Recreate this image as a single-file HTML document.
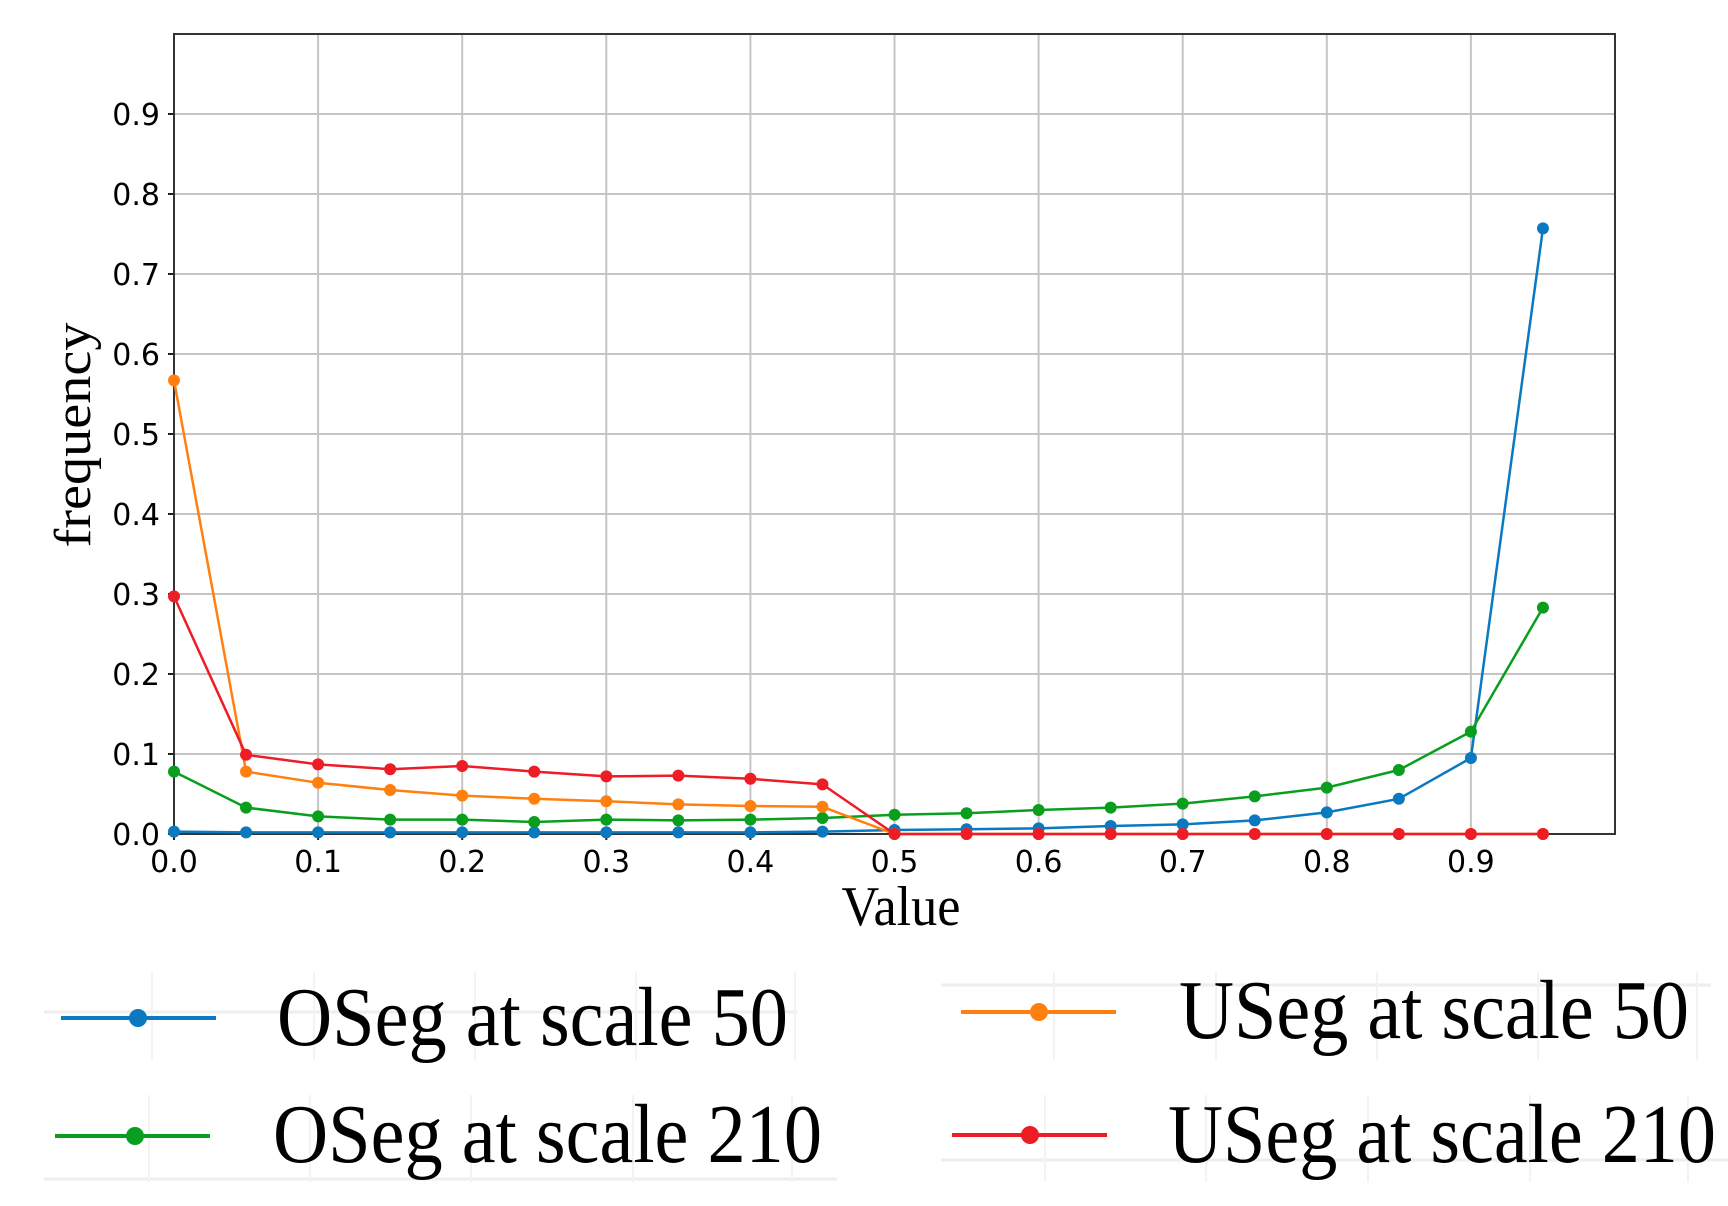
<!DOCTYPE html>
<html><head><meta charset="utf-8"><style>html,body{margin:0;padding:0;background:#fff}svg{display:block}</style></head>
<body>
<svg width="1728" height="1206" viewBox="0 0 1728 1206" xmlns="http://www.w3.org/2000/svg">
<defs>
<marker id="mb" markerUnits="userSpaceOnUse" markerWidth="14" markerHeight="14" refX="7" refY="7"><circle cx="7" cy="7" r="6" fill="#0a79c0"/></marker>
<marker id="mg" markerUnits="userSpaceOnUse" markerWidth="14" markerHeight="14" refX="7" refY="7"><circle cx="7" cy="7" r="6" fill="#0a9e1e"/></marker>
<marker id="mo" markerUnits="userSpaceOnUse" markerWidth="14" markerHeight="14" refX="7" refY="7"><circle cx="7" cy="7" r="6" fill="#ff800e"/></marker>
<marker id="mr" markerUnits="userSpaceOnUse" markerWidth="14" markerHeight="14" refX="7" refY="7"><circle cx="7" cy="7" r="6" fill="#ee1c25"/></marker>
</defs>
<g stroke="#c4c4c4" stroke-width="2">
<line x1="318.1" y1="34" x2="318.1" y2="834"/><line x1="462.2" y1="34" x2="462.2" y2="834"/><line x1="606.3" y1="34" x2="606.3" y2="834"/><line x1="750.4" y1="34" x2="750.4" y2="834"/><line x1="894.5" y1="34" x2="894.5" y2="834"/><line x1="1038.6" y1="34" x2="1038.6" y2="834"/><line x1="1182.7" y1="34" x2="1182.7" y2="834"/><line x1="1326.8" y1="34" x2="1326.8" y2="834"/><line x1="1470.9" y1="34" x2="1470.9" y2="834"/>
<line x1="174" y1="754" x2="1615" y2="754"/><line x1="174" y1="674" x2="1615" y2="674"/><line x1="174" y1="594" x2="1615" y2="594"/><line x1="174" y1="514" x2="1615" y2="514"/><line x1="174" y1="434" x2="1615" y2="434"/><line x1="174" y1="354" x2="1615" y2="354"/><line x1="174" y1="274" x2="1615" y2="274"/><line x1="174" y1="194" x2="1615" y2="194"/><line x1="174" y1="114" x2="1615" y2="114"/>
</g>
<rect x="174" y="34" width="1441" height="800" fill="none" stroke="#333" stroke-width="2"/>
<g stroke="#222" stroke-width="2">
<line x1="168" y1="834" x2="174" y2="834"/><line x1="168" y1="754" x2="174" y2="754"/><line x1="168" y1="674" x2="174" y2="674"/><line x1="168" y1="594" x2="174" y2="594"/><line x1="168" y1="514" x2="174" y2="514"/><line x1="168" y1="434" x2="174" y2="434"/><line x1="168" y1="354" x2="174" y2="354"/><line x1="168" y1="274" x2="174" y2="274"/><line x1="168" y1="194" x2="174" y2="194"/><line x1="168" y1="114" x2="174" y2="114"/>
<line x1="174" y1="834" x2="174" y2="840"/><line x1="318.1" y1="834" x2="318.1" y2="840"/><line x1="462.2" y1="834" x2="462.2" y2="840"/><line x1="606.3" y1="834" x2="606.3" y2="840"/><line x1="750.4" y1="834" x2="750.4" y2="840"/><line x1="894.5" y1="834" x2="894.5" y2="840"/><line x1="1038.6" y1="834" x2="1038.6" y2="840"/><line x1="1182.7" y1="834" x2="1182.7" y2="840"/><line x1="1326.8" y1="834" x2="1326.8" y2="840"/><line x1="1470.9" y1="834" x2="1470.9" y2="840"/>
</g>
<g font-family="DejaVu Sans, sans-serif" font-size="30" fill="#000" text-anchor="end">
<text x="160" y="845">0.0</text><text x="160" y="765">0.1</text><text x="160" y="685">0.2</text><text x="160" y="605">0.3</text><text x="160" y="525">0.4</text><text x="160" y="445">0.5</text><text x="160" y="365">0.6</text><text x="160" y="285">0.7</text><text x="160" y="205">0.8</text><text x="160" y="125">0.9</text>
</g>
<g font-family="DejaVu Sans, sans-serif" font-size="30" fill="#000" text-anchor="middle">
<text x="174" y="872">0.0</text><text x="318.1" y="872">0.1</text><text x="462.2" y="872">0.2</text><text x="606.3" y="872">0.3</text><text x="750.4" y="872">0.4</text><text x="894.5" y="872">0.5</text><text x="1038.6" y="872">0.6</text><text x="1182.7" y="872">0.7</text><text x="1326.8" y="872">0.8</text><text x="1470.9" y="872">0.9</text>
</g>
<text x="0" y="0" transform="translate(90,435) rotate(-90)" font-family="Liberation Serif, serif" font-size="52" text-anchor="middle" textLength="225" lengthAdjust="spacingAndGlyphs">frequency</text>
<text x="901" y="925" font-family="Liberation Serif, serif" font-size="56" text-anchor="middle" textLength="119" lengthAdjust="spacingAndGlyphs">Value</text>
<g fill="none" stroke-width="2.5" stroke-linejoin="round">
<polyline stroke="#0a79c0" marker-start="url(#mb)" marker-mid="url(#mb)" marker-end="url(#mb)" points="174,831.6 246.05,832.4 318.1,832.4 390.15,832.4 462.2,832.4 534.25,832.4 606.3,832.4 678.35,832.4 750.4,832.4 822.45,831.6 894.5,830 966.55,829.2 1038.6,828.4 1110.65,826 1182.7,824.4 1254.75,820.4 1326.8,812.4 1398.85,798.8 1470.9,758 1542.95,228.4"/>
<polyline stroke="#0a9e1e" marker-start="url(#mg)" marker-mid="url(#mg)" marker-end="url(#mg)" points="174,771.6 246.05,807.6 318.1,816.4 390.15,819.6 462.2,819.6 534.25,822 606.3,819.6 678.35,820.4 750.4,819.6 822.45,818 894.5,814.8 966.55,813.2 1038.6,810 1110.65,807.6 1182.7,803.6 1254.75,796.4 1326.8,787.6 1398.85,770 1470.9,731.6 1542.95,607.6"/>
<polyline stroke="#ff800e" marker-start="url(#mo)" marker-mid="url(#mo)" marker-end="url(#mo)" points="174,380.4 246.05,771.6 318.1,782.8 390.15,790 462.2,795.6 534.25,798.8 606.3,801.2 678.35,804.4 750.4,806 822.45,806.8 894.5,834 966.55,834 1038.6,834 1110.65,834 1182.7,834 1254.75,834 1326.8,834 1398.85,834 1470.9,834 1542.95,834"/>
<polyline stroke="#ee1c25" marker-start="url(#mr)" marker-mid="url(#mr)" marker-end="url(#mr)" points="174,596.4 246.05,754.8 318.1,764.4 390.15,769.2 462.2,766 534.25,771.6 606.3,776.4 678.35,775.6 750.4,778.8 822.45,784.4 894.5,834 966.55,834 1038.6,834 1110.65,834 1182.7,834 1254.75,834 1326.8,834 1398.85,834 1470.9,834 1542.95,834"/>
</g>
<g stroke="#eeeeee" stroke-width="3">
<line x1="44" y1="1012" x2="797" y2="1012"/><line x1="941" y1="985" x2="1711" y2="985"/>
<line x1="44" y1="1179" x2="837" y2="1179"/><line x1="941" y1="1160" x2="1728" y2="1160"/>
</g>
<g stroke="#f3f3f3" stroke-width="2">
<line x1="152" y1="972" x2="152" y2="1060"/><line x1="314" y1="972" x2="314" y2="1060"/><line x1="475" y1="972" x2="475" y2="1060"/><line x1="636" y1="972" x2="636" y2="1060"/><line x1="795" y1="972" x2="795" y2="1060"/>
<line x1="1054" y1="972" x2="1054" y2="1060"/><line x1="1216" y1="972" x2="1216" y2="1060"/><line x1="1377" y1="972" x2="1377" y2="1060"/><line x1="1538" y1="972" x2="1538" y2="1060"/><line x1="1697" y1="972" x2="1697" y2="1060"/>
<line x1="149" y1="1095" x2="149" y2="1182"/><line x1="310" y1="1095" x2="310" y2="1182"/><line x1="471" y1="1095" x2="471" y2="1182"/><line x1="633" y1="1095" x2="633" y2="1182"/><line x1="792" y1="1095" x2="792" y2="1182"/>
<line x1="1045" y1="1095" x2="1045" y2="1182"/><line x1="1206" y1="1095" x2="1206" y2="1182"/><line x1="1368" y1="1095" x2="1368" y2="1182"/><line x1="1530" y1="1095" x2="1530" y2="1182"/><line x1="1688" y1="1095" x2="1688" y2="1182"/>
</g>
<g stroke-width="4">
<line x1="61" y1="1018" x2="216" y2="1018" stroke="#0a79c0"/><circle cx="138" cy="1018" r="9" fill="#0a79c0"/>
<line x1="961" y1="1012" x2="1116" y2="1012" stroke="#ff800e"/><circle cx="1039" cy="1012" r="9" fill="#ff800e"/>
<line x1="55" y1="1136" x2="210" y2="1136" stroke="#0a9e1e"/><circle cx="135" cy="1136" r="9" fill="#0a9e1e"/>
<line x1="952" y1="1135" x2="1107" y2="1135" stroke="#ee1c25"/><circle cx="1030" cy="1135" r="9" fill="#ee1c25"/>
</g>
<g font-family="Liberation Serif, serif" font-size="84" fill="#000">
<text x="277" y="1045" textLength="511" lengthAdjust="spacingAndGlyphs">OSeg at scale 50</text>
<text x="1179" y="1038" textLength="510" lengthAdjust="spacingAndGlyphs">USeg at scale 50</text>
<text x="273" y="1162" textLength="549" lengthAdjust="spacingAndGlyphs">OSeg at scale 210</text>
<text x="1168" y="1162" textLength="548" lengthAdjust="spacingAndGlyphs">USeg at scale 210</text>
</g>
</svg>
</body></html>
